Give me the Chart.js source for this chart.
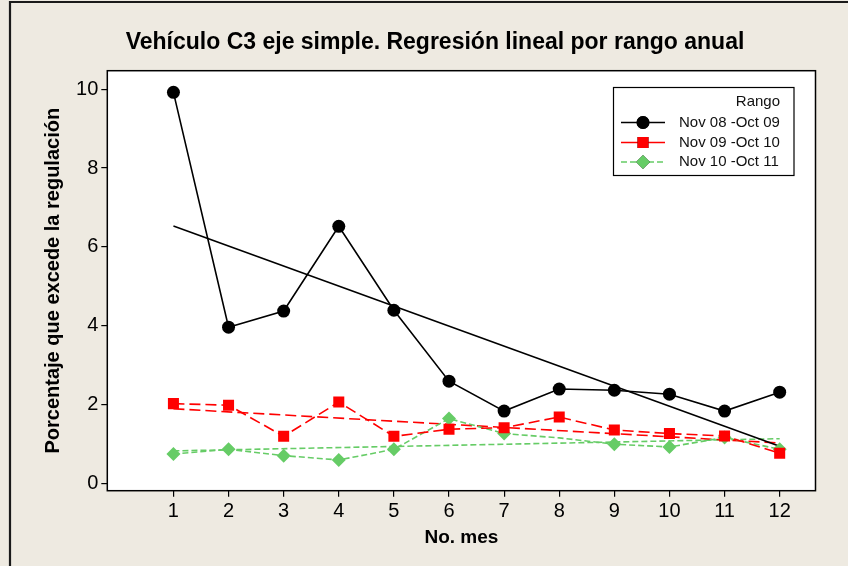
<!DOCTYPE html>
<html>
<head>
<meta charset="utf-8">
<script src="https://cdn.jsdelivr.net/npm/chart.js@4/dist/chart.umd.min.js"></script>
<style>
  html, body { margin: 0; padding: 0; background: #eeeae1; overflow: hidden; }
  canvas { display: block; }
</style>
</head>
<body>
<canvas id="c" width="848" height="566"></canvas>
<script>
// Month number (x) and tick values
const months = [1, 2, 3, 4, 5, 6, 7, 8, 9, 10, 11, 12];
const yTicks = [0, 2, 4, 6, 8, 10];

// Yearly ranges shown in the legend
const rangeLabels = ['Nov 08 -Oct 09', 'Nov 09 -Oct 10', 'Nov 10 -Oct 11'];

// Percentage of vehicles exceeding the regulation, per month
const pct0809 = [9.92, 3.96, 4.37, 6.52, 4.39, 2.59, 1.83, 2.39, 2.36, 2.26, 1.83, 2.31];
const pct0910 = [2.02, 1.98, 1.19, 2.06, 1.19, 1.37, 1.41, 1.68, 1.35, 1.26, 1.20, 0.76];
const pct1011 = [0.74, 0.86, 0.70, 0.59, 0.86, 1.64, 1.26, 1.15, 0.99, 0.92, 1.16, 0.86];

// Linear regression lines: value at month 1 and at month 12
const fit0809 = [6.53, 0.94];
const fit0910 = [1.89, 1.02];
const fit1011 = [0.82, 1.13];

const FONT = "'Liberation Sans', Arial, sans-serif";
const GREEN = '#66cc66';

const pts = vals => vals.map((v, i) => ({ x: months[i], y: v }));
const fitPts = f => [{ x: months[0], y: f[0] }, { x: months[months.length - 1], y: f[1] }];

const datasets = [
  {
    label: rangeLabels[0], data: pts(pct0809),
    borderColor: '#000', backgroundColor: '#000', borderWidth: 1.6,
    pointStyle: 'circle', pointRadius: 6.5, pointBorderWidth: 0,
    legendDash: []
  },
  {
    label: rangeLabels[1], data: pts(pct0910),
    borderColor: '#ff0000', backgroundColor: '#ff0000', borderWidth: 1.6,
    borderDash: [11, 5],
    pointStyle: 'rect', pointRadius: 7.8, pointBorderWidth: 0,
    legendDash: []
  },
  {
    label: rangeLabels[2], data: pts(pct1011),
    borderColor: GREEN, backgroundColor: GREEN, borderWidth: 1.6,
    borderDash: [6, 3],
    pointStyle: 'rectRot',
    pointRadius: pct1011.map((v, i) => (i === 7 ? 0 : 7)),
    pointBorderWidth: 0,
    legendDash: [6, 3]
  },
  {
    label: 'fit', data: fitPts(fit0809), isFit: true,
    borderColor: '#000', borderWidth: 1.6, pointRadius: 0
  },
  {
    label: 'fit', data: fitPts(fit0910), isFit: true,
    borderColor: '#ff0000', borderWidth: 1.6, borderDash: [11, 5], pointRadius: 0
  },
  {
    label: 'fit', data: fitPts(fit1011), isFit: true,
    borderColor: GREEN, borderWidth: 1.6, borderDash: [6, 3], pointRadius: 0
  }
];

// Background, white plot panel, frame, title and boxed legend
const decor = {
  id: 'decor',
  beforeDraw(chart) {
    const { ctx, chartArea: a } = chart;
    ctx.save();
    ctx.fillStyle = '#eeeae1';
    ctx.fillRect(0, 0, chart.width, chart.height);
    // outer frame: top and left edges
    ctx.strokeStyle = '#1a1a1a';
    ctx.lineWidth = 2.2;
    ctx.beginPath();
    ctx.moveTo(10, chart.height);
    ctx.lineTo(10, 2);
    ctx.lineTo(chart.width, 2);
    ctx.stroke();
    ctx.fillStyle = '#fff';
    ctx.fillRect(a.left, a.top, a.right - a.left, a.bottom - a.top);
    ctx.fillStyle = '#000';
    ctx.font = `bold 23px ${FONT}`;
    ctx.textAlign = 'center';
    ctx.textBaseline = 'middle';
    ctx.fillText('Vehículo C3 eje simple. Regresión lineal por rango anual', 435, 43);
    ctx.restore();
  },
  afterDraw(chart) {
    const { ctx, chartArea: a } = chart;
    ctx.save();
    ctx.strokeStyle = '#000';
    ctx.lineWidth = 1.5;
    ctx.strokeRect(a.left, a.top, a.right - a.left, a.bottom - a.top);

    // legend box
    const bx = 613.5, by = 87.5, bw = 180.5, bh = 88;
    ctx.fillStyle = '#fff';
    ctx.fillRect(bx, by, bw, bh);
    ctx.lineWidth = 1.2;
    ctx.strokeRect(bx, by, bw, bh);
    ctx.fillStyle = '#111';
    ctx.font = `15px ${FONT}`;
    ctx.textBaseline = 'middle';
    ctx.textAlign = 'right';
    ctx.fillText('Rango', 780, 102);
    const rows = [122.5, 142.5, 162];
    chart.data.datasets.filter(d => !d.isFit).forEach((d, i) => {
      const y = rows[i];
      ctx.strokeStyle = d.borderColor;
      ctx.lineWidth = 1.6;
      ctx.setLineDash(d.legendDash);
      ctx.beginPath();
      ctx.moveTo(621, y);
      ctx.lineTo(665, y);
      ctx.stroke();
      ctx.setLineDash([]);
      const r = Array.isArray(d.pointRadius) ? 7 : d.pointRadius;
      Chart.helpers.drawPoint(ctx, {
        pointStyle: d.pointStyle, radius: r, borderWidth: 0, rotation: 0
      }, 643, y);
      ctx.fillStyle = d.backgroundColor;
      ctx.fill();
      ctx.fillStyle = '#111';
      ctx.textAlign = 'left';
      ctx.fillText(d.label, 679, y);
    });
    ctx.restore();
  }
};

new Chart(document.getElementById('c'), {
  type: 'line',
  data: { datasets },
  plugins: [decor],
  options: {
    responsive: false,
    animation: false,
    devicePixelRatio: 1,
    layout: { padding: { left: 10, right: 32.5, top: 70.7, bottom: 0 } },
    plugins: {
      legend: { display: false },
      tooltip: { enabled: false },
      title: { display: false }
    },
    scales: {
      x: {
        type: 'linear',
        min: -0.2,
        max: 12.65,
        afterBuildTicks: s => { s.ticks = months.map(v => ({ value: v })); },
        afterFit: s => { s.height = 566 - 490.7; },
        ticks: {
          color: '#000', padding: 3, autoSkip: false, maxRotation: 0,
          font: { family: FONT, size: 20 }
        },
        grid: { drawOnChartArea: false, drawTicks: true, tickLength: 6, color: '#000', lineWidth: 1.2 },
        border: { display: false },
        title: {
          display: true, text: 'No. mes', color: '#000',
          font: { family: FONT, size: 19, weight: 'bold' },
          padding: { top: 0, bottom: 16.6 }
        }
      },
      y: {
        min: -0.19,
        max: 10.47,
        afterBuildTicks: s => { s.ticks = yTicks.map(v => ({ value: v })); },
        afterFit: s => { s.width = 107.3 - 10; },
        ticks: {
          color: '#000', padding: 3,
          font: { family: FONT, size: 20 }
        },
        grid: { drawOnChartArea: false, drawTicks: true, tickLength: 6, color: '#000', lineWidth: 1.2 },
        border: { display: false },
        title: {
          display: true, text: 'Porcentaje que excede la regulación', color: '#000',
          font: { family: FONT, size: 20, weight: 'bold' },
          padding: { top: 31, bottom: 0 }
        }
      }
    }
  }
});
</script>
</body>
</html>
